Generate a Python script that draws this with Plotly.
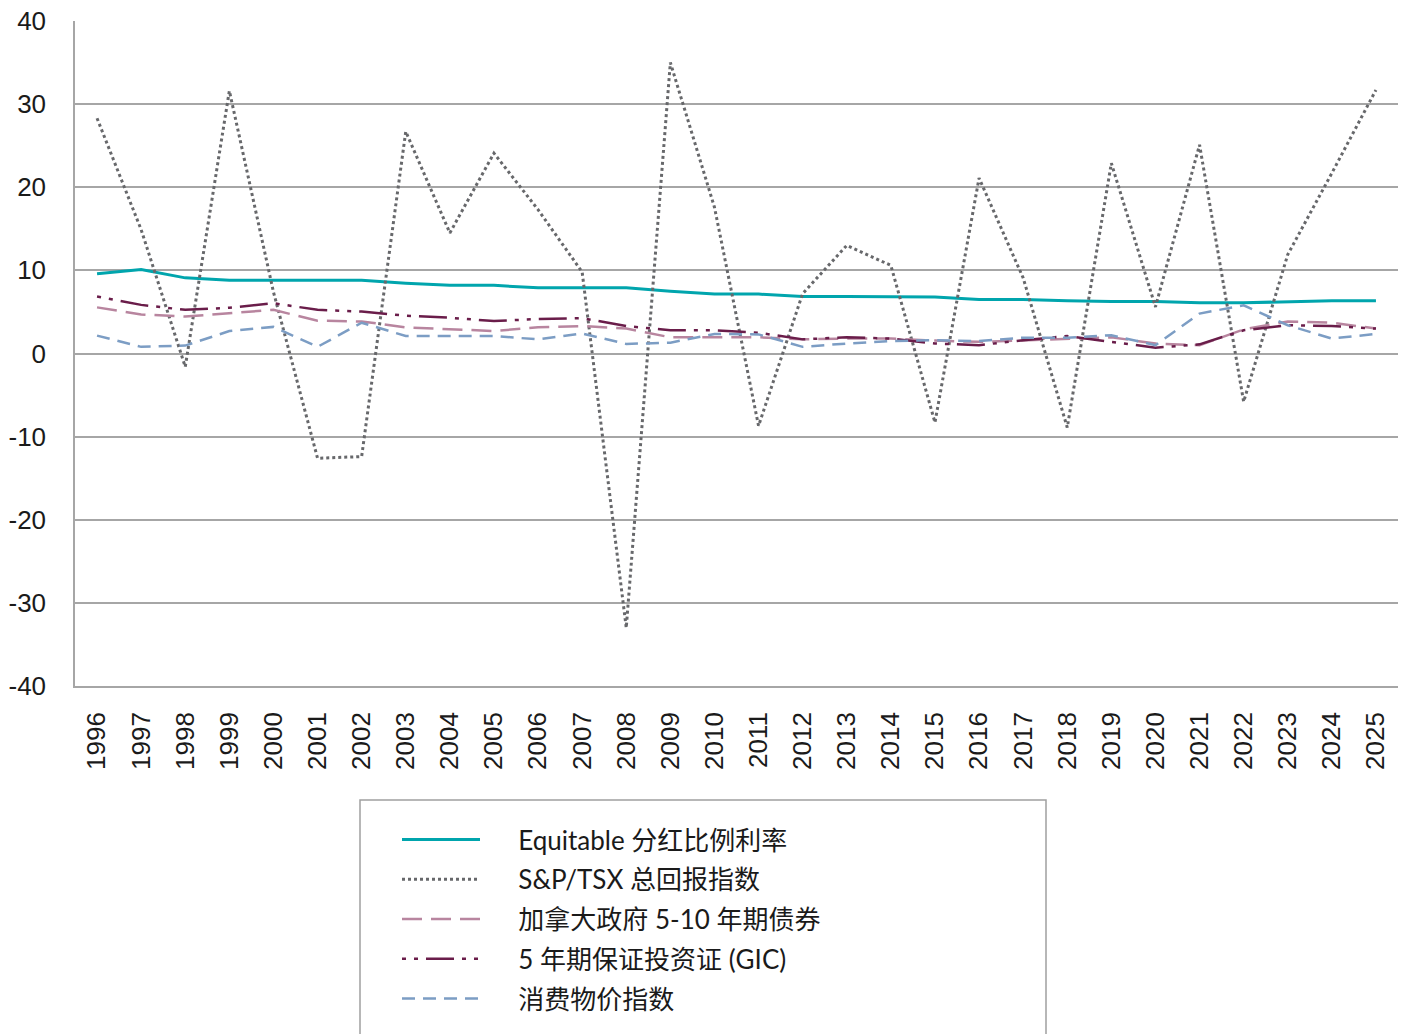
import plotly.graph_objects as go

# ---------------- data ----------------
years = list(range(1996, 2026))

equitable = [9.6, 10.1, 9.1, 8.8, 8.8, 8.8, 8.8, 8.45, 8.2, 8.2,
             7.9, 7.9, 7.9, 7.5, 7.15, 7.15, 6.85, 6.85, 6.85, 6.8,
             6.5, 6.5, 6.35, 6.25, 6.25, 6.1, 6.1, 6.25, 6.35, 6.35]

tsx = [28.3, 14.9, -1.6, 31.6, 7.4, -12.6, -12.4, 26.7, 14.5, 24.1,
       17.3, 9.8, -33.0, 35.0, 17.6, -8.7, 7.2, 13.0, 10.6, -8.3,
       21.1, 9.1, -8.9, 22.9, 5.6, 25.1, -5.8, 11.9, 21.7, 31.7]

gov_bond = [5.55, 4.7, 4.45, 4.85, 5.25, 3.95, 3.85, 3.15, 2.9, 2.7,
            3.15, 3.3, 3.0, 1.95, 1.95, 1.95, 1.7, 1.8, 1.8, 1.55,
            1.4, 1.6, 1.8, 1.95, 1.2, 1.0, 2.9, 3.85, 3.7, 3.0]

gic = [6.85, 5.85, 5.25, 5.5, 6.05, 5.25, 5.05, 4.55, 4.3, 3.9,
       4.15, 4.25, 3.3, 2.8, 2.8, 2.5, 1.7, 1.95, 1.8, 1.2,
       1.0, 1.6, 2.1, 1.4, 0.7, 1.1, 2.8, 3.4, 3.3, 3.0]

cpi = [2.15, 0.8, 0.95, 2.7, 3.2, 0.8, 3.7, 2.1, 2.1, 2.1,
       1.7, 2.4, 1.15, 1.3, 2.35, 2.3, 0.8, 1.2, 1.5, 1.6,
       1.5, 1.9, 1.9, 2.2, 1.0, 4.8, 5.8, 3.4, 1.8, 2.35]

series_names = ["Equitable 分红比例利率", "S&P/TSX 总回报指数",
                "加拿大政府 5-10 年期债券", "5 年期保证投资证 (GIC)", "消费物价指数"]
y_ticks = [-40, -30, -20, -10, 0, 10, 20, 30, 40]
y_tick_labels = ["-40", "-30", "-20", "-10", "0", "10", "20", "30", "40"]
x_tick_labels = [str(y) for y in years]

# ---------------- styles ----------------
series_values = [equitable, tsx, gov_bond, gic, cpi]
colors = ["#00A5AD", "#67686B", "#B8859F", "#6A1D4A", "#7C9DC4"]
dashes = ["solid", "3px,3px", "20px,9px", "4px,8px,4px,8px,28px,8px", "13px,8px"]
widths = [3, 3, 2.5, 2.5, 2.5]

GRID = "#A6A6A6"
LEGEND_FONT = "Lato, 'Noto Sans CJK SC', sans-serif"
TICK_FONT = "'Liberation Sans', Arial, sans-serif"
PAD = "\u00a0" * 5  # gap between legend symbol and text

fig = go.Figure()
for i, (name, vals) in enumerate(zip(series_names, series_values)):
    fig.add_trace(go.Scatter(
        x=years, y=vals, name=PAD + name, mode="lines",
        legendgroup=f"g{i}",
        line=dict(color=colors[i], width=widths[i], dash=dashes[i]),
    ))

# page body margin is removed by the post script below
OFF = 0
W, H = 1410, 1034
ml = 75 - OFF
mt = 21 - OFF
mr = W - (1398 - OFF)
mb = H - (686 - OFF)
pw = W - ml - mr
ph = H - mt - mb

def px_x(x):
    return (x - OFF - ml) / pw

def px_y(y):
    return (H - mb - (y - OFF)) / ph

fig.update_layout(
    width=W, height=H,
    margin=dict(l=ml, r=mr, t=mt, b=mb, autoexpand=False),
    paper_bgcolor="white", plot_bgcolor="white",
    font=dict(family=LEGEND_FONT, color="#1a1a1a"),
    showlegend=True,
    legend=dict(
        x=px_x(397), y=px_y(816), xanchor="left", yanchor="top",
        bgcolor="rgba(0,0,0,0)", borderwidth=0,
        font=dict(family=LEGEND_FONT, size=26, color="#1a1a1a"),
        itemwidth=78, traceorder="grouped", tracegroupgap=3,
    ),
    xaxis=dict(
        range=[1995.5, 2025.5], tickmode="array", tickvals=years,
        ticktext=x_tick_labels, tickangle=-90,
        tickfont=dict(family=TICK_FONT, size=26, color="#1a1a1a"),
        showgrid=False, zeroline=False, ticks="",
        showline=True, linecolor=GRID, linewidth=1.5,
        ticklabelstandoff=14, automargin=False, ticklabeloverflow="allow",
    ),
    xaxis2=dict(
        range=[1995.5, 2025.5], overlaying="x", anchor="free", position=0.5,
        tickmode="array", tickvals=years, showticklabels=False,
        ticks="outside", ticklen=8, tickwidth=1.5, tickcolor=GRID,
        showgrid=False, zeroline=False, showline=False, automargin=False,
    ),
    xaxis3=dict(
        range=[1995.5, 2025.5], overlaying="x", anchor="free", position=0.5,
        tickmode="array", tickvals=years, showticklabels=False,
        ticks="inside", ticklen=7, tickwidth=1.5, tickcolor=GRID,
        showgrid=False, zeroline=False, showline=False, automargin=False,
    ),
    yaxis=dict(
        range=[-40, 40], tickmode="array", tickvals=y_ticks,
        ticktext=y_tick_labels,
        tickfont=dict(family=TICK_FONT, size=26, color="#1a1a1a"),
        showgrid=True, gridcolor=GRID, gridwidth=1.5,
        zeroline=True, zerolinecolor=GRID, zerolinewidth=1.5,
        showline=True, linecolor=GRID, linewidth=1.5, ticks="",
        ticklabelstandoff=22, automargin=False, ticklabeloverflow="allow",
    ),
    shapes=[dict(
        type="rect", xref="paper", yref="paper",
        x0=px_x(360), x1=px_x(1046), y0=px_y(800), y1=px_y(1050),
        line=dict(color="#A0A0A0", width=1.5), fillcolor="rgba(0,0,0,0)",
        layer="below",
    )],
)

fig.write_html(
    "out.html",
    config={"displayModeBar": False},
    post_script="document.documentElement.style.margin='0';"
                "document.body.style.margin='0';"
                "document.body.style.padding='0';",
)
